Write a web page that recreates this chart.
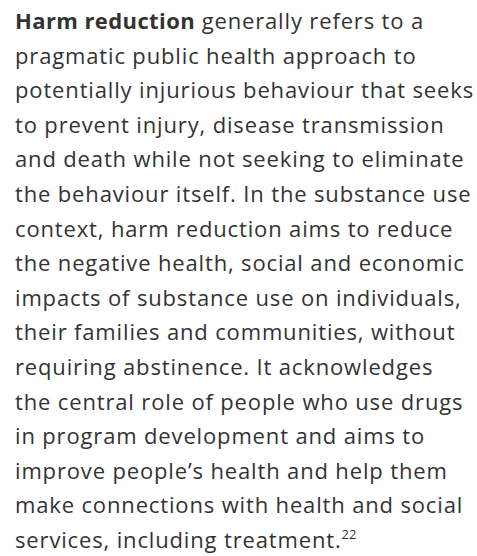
<!DOCTYPE html>
<html>
<head>
<meta charset="utf-8">
<script src="https://cdn.jsdelivr.net/npm/chart.js@4"></script>
<style>
  html, body { margin: 0; padding: 0; background: #ffffff; }
  body { width: 477px; height: 556px; overflow: hidden; position: relative; }
  #text {
    position: absolute; left: 15px; top: 3px;
    font-family: "Open Sans", "Noto Sans", sans-serif;
    font-size: 22px; line-height: 34.6px; color: #333333;
    letter-spacing: 0.85px;
    white-space: nowrap;
  }
  #text .line { display: block; height: 34.6px; }
  #text b { font-weight: 700; letter-spacing: 0.4px; }
  #text sup { font-size: 13px; line-height: 0; vertical-align: 0; position: relative; top: -9px; letter-spacing: 0; }
</style>
</head>
<body>
<div id="text"></div>
<script>
const boldLead = "Harm reduction";
const lines = [
  " generally refers to a",
  "pragmatic public health approach to",
  "potentially injurious behaviour that seeks",
  "to prevent injury, disease transmission",
  "and death while not seeking to eliminate",
  "the behaviour itself. In the substance use",
  "context, harm reduction aims to reduce",
  "the negative health, social and economic",
  "impacts of substance use on individuals,",
  "their families and communities, without",
  "requiring abstinence. It acknowledges",
  "the central role of people who use drugs",
  "in program development and aims to",
  "improve people\u2019s health and help them",
  "make connections with health and social",
  "services, including treatment."
];
const footnote = "22";
const box = document.getElementById('text');
lines.forEach((t, i) => {
  const s = document.createElement('span');
  s.className = 'line';
  if (i === 0) {
    const b = document.createElement('b');
    b.textContent = boldLead;
    s.appendChild(b);
  }
  s.appendChild(document.createTextNode(t));
  if (i === lines.length - 1) {
    const sp = document.createElement('sup');
    sp.textContent = footnote;
    s.appendChild(sp);
  }
  box.appendChild(s);
});
</script>
</body>
</html>
